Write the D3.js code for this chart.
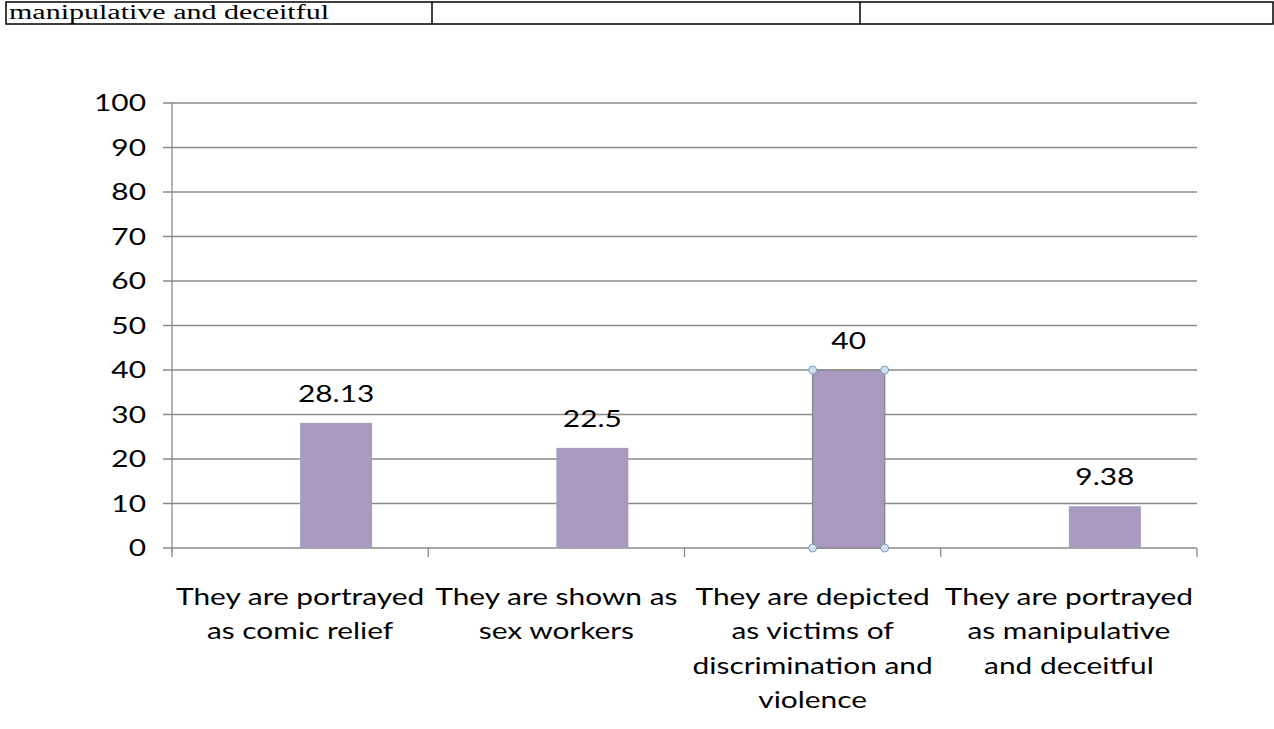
<!DOCTYPE html>
<html>
<head>
<meta charset="utf-8">
<script src="https://d3js.org/d3.v7.min.js"></script>
<style>
body { margin:0; background:#fff; }
svg { display:block; }
.tick-label, .value, .cat { font-family: Lato, "Open Sans", sans-serif; fill:#000; }
</style>
</head>
<body>
<svg id="chart"></svg>
<script>
// data
var categories = [
    "They are portrayed as comic relief",
    "They are shown as sex workers",
    "They are depicted as victims of discrimination and violence",
    "They are portrayed as manipulative and deceitful"
]
var categoryLines = [
    ["They are portrayed", "as comic relief"],
    ["They are shown as", "sex workers"],
    ["They are depicted", "as victims of", "discrimination and", "violence"],
    ["They are portrayed", "as manipulative", "and deceitful"]
]
var values = [28.13, 22.5, 40, 9.38]
var valueLabels = ["28.13", "22.5", "40", "9.38"]
var yTicks = [0, 10, 20, 30, 40, 50, 60, 70, 80, 90, 100]
var tableCells = ["manipulative and deceitful", "", ""]
var selectedIndex = 2

var screen = {width:1274, height:729}
var margins = {left:172, right:77, top:103, bottom:181}
var graph = {
    width: screen.width - margins.left - margins.right,
    height: screen.height - margins.top - margins.bottom
}
// the source picture is stretched sideways, so is its text
var stretch = 1.3

var svg = d3.select("#chart")
    .attr("width", screen.width)
    .attr("height", screen.height)

// table row left over from the page above the chart
var tableX = [6, 432, 860, 1273]
var table = svg.append("g")
table.append("rect")
    .attr("x", tableX[0])
    .attr("y", 2)
    .attr("width", tableX[3] - tableX[0])
    .attr("height", 22)
    .attr("fill", "none")
    .attr("stroke", "#000")
    .attr("stroke-width", 1.5)
table.selectAll("line")
    .data(tableX.slice(1, 3))
    .enter()
    .append("line")
    .attr("x1", function(d) { return d })
    .attr("x2", function(d) { return d })
    .attr("y1", 2)
    .attr("y2", 24)
    .attr("stroke", "#000")
    .attr("stroke-width", 1.5)
table.selectAll("text")
    .data(tableCells)
    .enter()
    .append("text")
    .attr("x", function(d, i) { return tableX[i] + 3 })
    .attr("y", 19)
    .attr("font-family", "'Liberation Serif', 'Times New Roman', serif")
    .attr("font-size", 20)
    .attr("textLength", function(d) { return d ? 320 : null })
    .attr("lengthAdjust", "spacingAndGlyphs")
    .text(function(d) { return d })

var xScale = d3.scaleBand()
    .domain(categories)
    .range([0, graph.width])

// two series slots per category, the value sits in the second one
var slot = d3.scaleBand()
    .domain(["empty", "value"])
    .range([xScale.bandwidth() / 2 - 72, xScale.bandwidth() / 2 + 72])

var yScale = d3.scaleLinear()
    .domain([0, 100])
    .range([graph.height, 0])

var g = svg.append("g")
    .attr("transform", "translate(" + margins.left + "," + margins.top + ")")

// gridlines
g.append("g")
    .selectAll("line")
    .data(yTicks)
    .enter()
    .append("line")
    .attr("x1", -9)
    .attr("x2", graph.width)
    .attr("y1", function(d) { return yScale(d) })
    .attr("y2", function(d) { return yScale(d) })
    .attr("stroke", "#8a8a8a")
    .attr("stroke-width", 1.3)

g.append("g")
    .selectAll("text")
    .data(yTicks)
    .enter()
    .append("text")
    .classed("tick-label", true)
    .attr("transform", function(d) { return "translate(-26," + yScale(d) + ") scale(" + stretch + ",1)" })
    .attr("dy", "0.36em")
    .attr("text-anchor", "end")
    .attr("font-size", 23)
    .text(function(d) { return d })

// y axis line
g.append("line")
    .attr("x1", 0).attr("x2", 0)
    .attr("y1", 0).attr("y2", graph.height + 4)
    .attr("stroke", "#8a8a8a")
    .attr("stroke-width", 1.3)

// category ticks
var edges = categories.map(function(c) { return xScale(c) }).concat([graph.width])
g.append("g")
    .selectAll("line")
    .data(edges)
    .enter()
    .append("line")
    .attr("x1", function(d) { return d })
    .attr("x2", function(d) { return d })
    .attr("y1", graph.height)
    .attr("y2", graph.height + 9)
    .attr("stroke", "#8a8a8a")
    .attr("stroke-width", 1.3)

// bars
g.append("g")
    .selectAll("rect")
    .data(values)
    .enter()
    .append("rect")
    .attr("x", function(d, i) { return xScale(categories[i]) + slot("value") })
    .attr("y", function(d) { return yScale(d) })
    .attr("width", slot.bandwidth())
    .attr("height", function(d) { return graph.height - yScale(d) })
    .attr("fill", "#a99bbf")
    .attr("stroke", function(d, i) { return i == selectedIndex ? "#8c8c8c" : "none" })
    .attr("stroke-width", 1.5)

// value labels
g.append("g")
    .selectAll("text")
    .data(values)
    .enter()
    .append("text")
    .classed("value", true)
    .attr("transform", function(d, i) {
        var x = xScale(categories[i]) + slot("value") + slot.bandwidth() / 2
        return "translate(" + x + "," + (yScale(d) - 21) + ") scale(" + stretch + ",1)"
    })
    .attr("text-anchor", "middle")
    .attr("font-size", 23)
    .text(function(d, i) { return valueLabels[i] })

// selection handles on the selected bar
var sel = values[selectedIndex]
var sx = xScale(categories[selectedIndex]) + slot("value")
var corners = [
    [sx, yScale(sel)], [sx + slot.bandwidth(), yScale(sel)],
    [sx, yScale(0)], [sx + slot.bandwidth(), yScale(0)]
]
g.append("g")
    .selectAll("circle")
    .data(corners)
    .enter()
    .append("circle")
    .attr("cx", function(d) { return d[0] })
    .attr("cy", function(d) { return d[1] })
    .attr("r", 4)
    .attr("fill", "#cfe1ee")
    .attr("stroke", "#7f9cb8")
    .attr("stroke-width", 1)

// category labels
var cat = g.append("g")
    .selectAll("text")
    .data(categoryLines)
    .enter()
    .append("text")
    .classed("cat", true)
    .attr("text-anchor", "middle")
    .attr("font-size", 23)
    .attr("transform", function(d, i) {
        var x = xScale(categories[i]) + xScale.bandwidth() / 2
        return "translate(" + x + "," + (graph.height + 57) + ") scale(" + stretch + ",1)"
    })
cat.selectAll("tspan")
    .data(function(d) { return d })
    .enter()
    .append("tspan")
    .attr("x", 0)
    .attr("y", function(d, i) { return i * 34.5 })
    .text(function(d) { return d })
</script>
</body>
</html>
